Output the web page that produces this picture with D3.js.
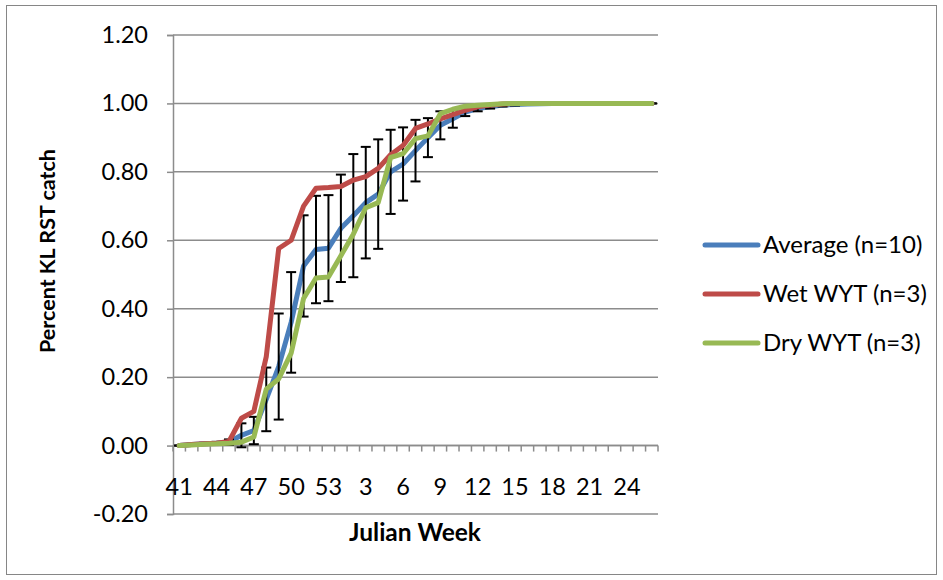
<!DOCTYPE html>
<html>
<head>
<meta charset="utf-8">
<script src="https://cdn.jsdelivr.net/npm/d3@7"></script>
<style>
  body { margin: 0; background: #ffffff; }
  text { font-family: Lato, "Open Sans", sans-serif; fill: #000; }
</style>
</head>
<body>
<svg id="chart" width="943" height="580"></svg>
<script>
//=================================
//  Data
//=================================

//Julian weeks, fall weeks 41-53 then 1-26 of the next year
var weeks = [41, 42, 43, 44, 45, 46, 47, 48, 49, 50, 51, 52, 53,
  1, 2, 3, 4, 5, 6, 7, 8, 9, 10, 11, 12, 13, 14, 15, 16, 17, 18, 19, 20, 21, 22, 23, 24, 25, 26];

//Cumulative proportion of catch
var avgCatch = [0, 0.003, 0.005, 0.007, 0.01, 0.03, 0.044, 0.135, 0.231, 0.36, 0.525, 0.573, 0.577,
  0.635, 0.672, 0.71, 0.735, 0.80, 0.823, 0.862, 0.90, 0.936, 0.955, 0.975, 0.985, 0.99, 0.995, 0.997, 0.998, 0.999,
  1, 1, 1, 1, 1, 1, 1, 1, 1];
var wetCatch = [0, 0.003, 0.005, 0.007, 0.012, 0.08, 0.10, 0.26, 0.576, 0.60, 0.70, 0.752, 0.754,
  0.757, 0.776, 0.786, 0.81, 0.85, 0.877, 0.927, 0.94, 0.955, 0.967, 0.98, 0.99, 0.995, 0.998,
  1, 1, 1, 1, 1, 1, 1, 1, 1, 1, 1, 1];
var dryCatch = [0, 0.002, 0.004, 0.005, 0.007, 0.01, 0.025, 0.165, 0.195, 0.27, 0.43, 0.49, 0.493,
  0.555, 0.618, 0.695, 0.71, 0.842, 0.853, 0.897, 0.905, 0.97, 0.983, 0.992, 0.995, 0.997, 0.999,
  1, 1, 1, 1, 1, 1, 1, 1, 1, 1, 1, 1];

//Standard deviation of the average (error bars)
var avgSD = [0, 0.002, 0.003, 0.004, 0.008, 0.035, 0.04, 0.093, 0.155, 0.147, 0.148, 0.157, 0.155,
  0.157, 0.18, 0.163, 0.16, 0.123, 0.107, 0.09, 0.057, 0.041, 0.026, 0.012, 0.008, 0.005, 0.004, 0.003, 0.002,
  0, 0, 0, 0, 0, 0, 0, 0, 0, 0];

var yTicks = [-0.2, 0, 0.2, 0.4, 0.6, 0.8, 1.0, 1.2];
var seriesNames = ["Average (n=10)", "Wet WYT (n=3)", "Dry WYT (n=3)"];
var seriesColors = ["#4a7ebb", "#be4b48", "#98b954"];

//=================================
//   Scales
//=================================
var svg = d3.select("#chart");

var plotLeft = 173, plotRight = 658, plotTop = 35, plotBottom = 514;

var x = d3.scaleBand().domain(weeks).range([plotLeft, plotRight]);
var y = d3.scaleLinear().domain([-0.2, 1.2]).range([plotBottom, plotTop]);

function cx(w) { return x(w) + x.bandwidth() / 2; }

//Outer chart border
svg.append("rect")
  .attr("x", 6.5).attr("y", 5.5)
  .attr("width", 930).attr("height", 569)
  .attr("fill", "none")
  .attr("stroke", "#868686")
  .attr("stroke-width", 1);

//Horizontal gridlines
svg.append("g").selectAll("line")
  .data(yTicks)
  .join("line")
  .attr("x1", plotLeft).attr("x2", plotRight)
  .attr("y1", function(d) { return y(d); })
  .attr("y2", function(d) { return y(d); })
  .attr("stroke", "#8c8c8c")
  .attr("stroke-width", 1.5);

//Y axis
var yAxis = svg.append("g")
  .attr("transform", "translate(" + plotLeft + ",0)")
  .call(d3.axisLeft(y)
    .tickValues(yTicks)
    .tickFormat(function(d) { return d.toFixed(2); })
    .tickSize(6)
    .tickPadding(19));
yAxis.select(".domain").attr("stroke", "#8c8c8c").attr("stroke-width", 1.5);
yAxis.selectAll(".tick line").attr("stroke", "#8c8c8c").attr("stroke-width", 1.5);
yAxis.selectAll(".tick text")
  .style("font-family", "Lato, 'Open Sans', sans-serif")
  .style("font-size", "23.5px")
  .attr("fill", "#000");

//X axis (category axis sitting at y = 0)
var x0 = y(0);
svg.append("line")
  .attr("x1", plotLeft).attr("x2", plotRight)
  .attr("y1", x0).attr("y2", x0)
  .attr("stroke", "#8c8c8c")
  .attr("stroke-width", 1.5);

//Tick marks between the categories
var boundaries = weeks.map(function(w) { return x(w); }).concat([plotRight]);
svg.append("g").selectAll("line")
  .data(boundaries)
  .join("line")
  .attr("x1", function(d) { return d; })
  .attr("x2", function(d) { return d; })
  .attr("y1", x0).attr("y2", x0 + 6)
  .attr("stroke", "#8c8c8c")
  .attr("stroke-width", 1.5);

//Every third week gets a label
var labelWeeks = weeks.filter(function(w, i) { return i % 3 == 0; });
var xAxis = svg.append("g")
  .attr("transform", "translate(0," + x0 + ")")
  .call(d3.axisBottom(x).tickValues(labelWeeks).tickSize(0).tickPadding(33));
xAxis.select(".domain").remove();
xAxis.selectAll(".tick text")
  .style("font-family", "Lato, 'Open Sans', sans-serif")
  .style("font-size", "23.5px")
  .attr("fill", "#000");

//Axis titles
svg.append("text")
  .attr("x", 415).attr("y", 541)
  .attr("text-anchor", "middle")
  .style("font-size", "24.5px")
  .style("font-weight", "bold")
  .text("Julian Week");

svg.append("text")
  .attr("transform", "translate(47,251) rotate(-90)")
  .attr("text-anchor", "middle")
  .attr("dy", "0.35em")
  .style("font-size", "21.5px")
  .style("font-weight", "bold")
  .text("Percent KL RST catch");

//=================================
//   Series
//=================================
function drawLine(values, color) {
  var line = d3.line()
    .x(function(d, i) { return cx(weeks[i]); })
    .y(function(d) { return y(d); });
  svg.append("path")
    .datum(values)
    .attr("d", line)
    .attr("fill", "none")
    .attr("stroke", color)
    .attr("stroke-width", 5)
    .attr("stroke-linejoin", "round")
    .attr("stroke-linecap", "round");
}

drawLine(avgCatch, seriesColors[0]);

//Error bars belong to the average series
var bars = svg.append("g")
  .attr("stroke", "#000")
  .attr("stroke-width", 2);
weeks.forEach(function(w, i) {
  var hi = y(avgCatch[i] + avgSD[i]), lo = y(avgCatch[i] - avgSD[i]), px = cx(w);
  bars.append("line").attr("x1", px).attr("x2", px).attr("y1", hi).attr("y2", lo);
  bars.append("line").attr("x1", px - 5).attr("x2", px + 5).attr("y1", hi).attr("y2", hi);
  bars.append("line").attr("x1", px - 5).attr("x2", px + 5).attr("y1", lo).attr("y2", lo);
});

drawLine(wetCatch, seriesColors[1]);
drawLine(dryCatch, seriesColors[2]);

//=================================
//   Legend
//=================================
var legend = svg.append("g");
seriesNames.forEach(function(name, i) {
  var ly = 245 + i * 49;
  legend.append("line")
    .attr("x1", 705).attr("x2", 758)
    .attr("y1", ly).attr("y2", ly)
    .attr("stroke", seriesColors[i])
    .attr("stroke-width", 5)
    .attr("stroke-linecap", "round");
  legend.append("text")
    .attr("x", 763).attr("y", ly)
    .attr("dy", "0.35em")
    .style("font-size", "24px")
    .text(name);
});
</script>
</body>
</html>
